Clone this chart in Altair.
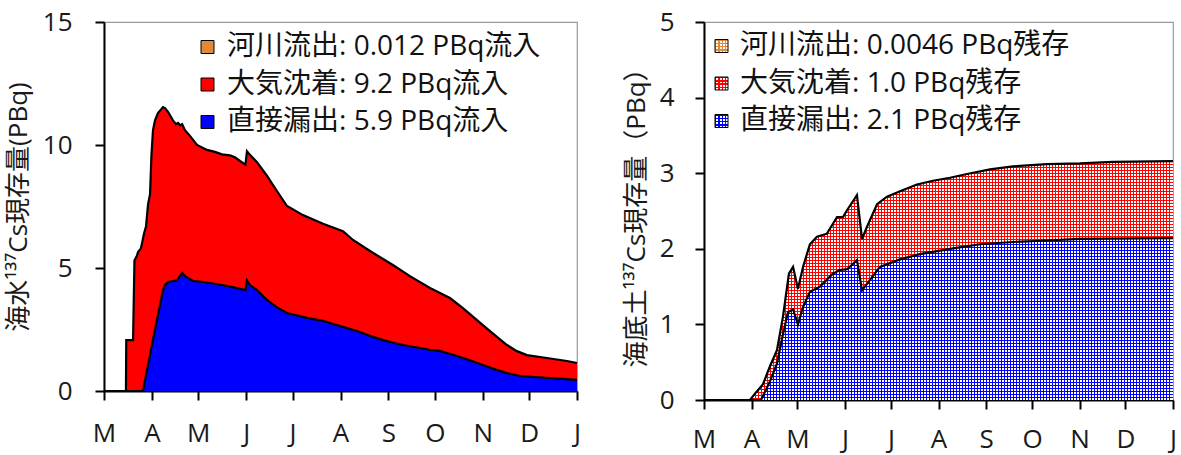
import altair as alt
import pandas as pd

FONT = "Open Sans, Noto Sans CJK JP"
START = pd.Timestamp("2011-03-01")

# ---- Seawater 137Cs inventory (PBq); days counted from 1 March 2011 ----
# upper edge of the stack (direct + atmospheric + river)
sea_total_days = [0.0, 14.2, 14.4, 18.8, 19.7, 21.3, 22.0, 23.9, 24.9, 25.9,
                  27.2, 28.5, 29.8, 30.7, 31.7, 33.0, 34.9, 38.2, 39.5, 41.4,
                  44.6, 46.6, 47.9, 49.2, 50.5, 52.4, 55.6, 60.2, 66.6, 71.8,
                  76.3, 81.5, 84.7, 88.0, 91.5, 92.5, 94.4, 99.0, 105.4, 111.9,
                  118.4, 128.7, 141.7, 154.6, 161.1, 172.1, 186.9, 197.9, 210.9, 223.8,
                  232.2, 245.1, 254.2, 260.7, 267.1, 273.6, 286.5, 299.5, 306.0]
sea_total_pbq = [0, 0, 2.07, 2.07, 5.3, 5.5, 5.65, 5.8, 6.1, 6.4,
                 6.7, 7.6, 8.0, 9.6, 10.6, 11.0, 11.3, 11.54, 11.5, 11.35,
                 11.0, 10.85, 10.9, 10.8, 10.85, 10.6, 10.37, 10.0, 9.8, 9.72,
                 9.62, 9.58, 9.5, 9.35, 9.2, 9.75, 9.6, 9.3, 8.75, 8.13,
                 7.52, 7.15, 6.8, 6.5, 6.14, 5.69, 5.12, 4.67, 4.19, 3.78,
                 3.37, 2.68, 2.2, 1.87, 1.62, 1.46, 1.34, 1.22, 1.14]
# direct release contribution
sea_direct_days = [0.0, 25.2, 31.7, 38.2, 39.5, 41.4, 47.2, 50.5, 52.4, 57.6,
                   62.1, 68.6, 77.0, 84.7, 91.5, 92.5, 94.4, 99.0, 105.4, 111.9,
                   118.4, 131.3, 141.7, 150.7, 163.6, 172.1, 180.5, 193.4, 210.9, 217.3,
                   228.3, 236.7, 245.1, 252.9, 260.7, 269.1, 286.5, 306.0]
sea_direct_pbq = [0, 0, 2.1, 4.1, 4.3, 4.43, 4.5, 4.8, 4.67, 4.47,
                  4.45, 4.39, 4.3, 4.2, 4.1, 4.5, 4.31, 4.1, 3.7, 3.4,
                  3.17, 2.97, 2.85, 2.68, 2.44, 2.24, 2.07, 1.87, 1.67, 1.63,
                  1.42, 1.25, 1.06, 0.88, 0.73, 0.61, 0.53, 0.45]

# ---- Seabed sediment 137Cs inventory (PBq) ----
sed_total_days = [0.0, 30.0, 33.9, 38.5, 43.1, 47.6, 51.5, 55.4, 58.1, 61.3,
                  64.6, 69.1, 73.7, 80.2, 86.8, 90.7, 93.3, 99.8, 103.1, 106.3,
                  112.9, 119.4, 127.9, 138.9, 149.4, 160.5, 171.6, 186.6, 201.6, 223.7,
                  245.3, 266.8, 306.0]
sed_total_pbq = [0, 0, 0.1, 0.21, 0.45, 0.66, 1.1, 1.67, 1.76, 1.47,
                 1.76, 2.06, 2.16, 2.2, 2.42, 2.42, 2.51, 2.71, 2.13, 2.29,
                 2.59, 2.69, 2.76, 2.85, 2.9, 2.94, 2.99, 3.05, 3.09, 3.12,
                 3.13, 3.15, 3.16]
sed_direct_days = [0.0, 37.2, 43.1, 47.6, 51.5, 54.8, 58.1, 61.3, 64.6, 69.1,
                   75.7, 84.1, 88.7, 93.3, 99.8, 103.1, 108.3, 114.8, 127.9, 140.9,
                   160.5, 180.0, 201.6, 223.7, 245.3, 306.0]
sed_direct_pbq = [0, 0, 0.25, 0.48, 0.87, 1.16, 1.2, 1.0, 1.23, 1.43,
                  1.5, 1.67, 1.72, 1.73, 1.85, 1.45, 1.59, 1.76, 1.86, 1.93,
                  2.0, 2.06, 2.09, 2.11, 2.13, 2.14]

# ---- legend entries (river, atmospheric, direct) ----
sea_labels = ["河川流出: 0.012 PBq流入", "大気沈着: 9.2 PBq流入", "直接漏出: 5.9 PBq流入"]
sed_labels = ["河川流出: 0.0046 PBq残存", "大気沈着: 1.0 PBq残存", "直接漏出: 2.1 PBq残存"]
source_colors = ["#e0893b", "#ff0000", "#0000ff"]

month_starts = [(2011, m) for m in range(3, 13)] + [(2012, 1)]


def frame(days, values):
    dates = START + pd.to_timedelta(pd.Series(days, dtype=float), unit="D")
    return pd.DataFrame({"date": dates.dt.strftime("%Y-%m-%dT%H:%M:%S"),
                         "pbq": values})


def stripes(color, n, along_x, back, span=1.0, frac=0.42):
    """Linear gradient of n sharp stripes spread over `span` of the mark's box."""
    stops = []
    for k in range(n):
        a, b, c = k / n, (k + frac) / n, (k + 1) / n
        stops += [{"offset": round(a, 6), "color": color},
                  {"offset": round(b, 6), "color": color},
                  {"offset": round(b, 6), "color": back},
                  {"offset": round(c, 6), "color": back}]
    g = {"gradient": "linear", "stops": stops, "x1": 0, "y1": 0}
    g.update({"x2": span, "y2": 0} if along_x else {"x2": 0, "y2": span})
    return g


x_scale = alt.Scale(domain=[alt.DateTime(year=2011, month=3, date=1),
                            alt.DateTime(year=2012, month=1, date=1)], nice=False)


def x_enc(label_pad):
    axis = alt.Axis(values=[alt.DateTime(year=y, month=m, date=1) for y, m in month_starts],
                    labelExpr="substring(timeFormat(datum.value, '%b'), 0, 1)",
                    title=None, grid=False, tickSize=9, labelPadding=label_pad,
                    labelFlush=False, labelOverlap=False)
    return alt.X("date:T", scale=x_scale, axis=axis)


def y_enc(top, step, title, pad, label_pad):
    return alt.Y("pbq:Q", scale=alt.Scale(domain=[0, top], nice=False),
                 axis=alt.Axis(values=list(range(0, top + 1, step)), title=title,
                               grid=False, tickSize=9, labelPadding=label_pad,
                               titlePadding=pad))


def top_line(df, x, y):
    return alt.Chart(df).mark_line(color="black", strokeWidth=2.2).encode(x=x, y=y)


# ---------------- seawater panel ----------------
sea_total = frame(sea_total_days, sea_total_pbq)
sea_direct = frame(sea_direct_days, sea_direct_pbq)
x_sea = x_enc(20)
y_sea = y_enc(15, 5, "海水¹³⁷Cs現存量(PBq)", 11, 23)

sea_layers = [
    alt.Chart(sea_total).mark_area(fill=source_colors[1]).encode(x=x_sea, y=y_sea),
    alt.Chart(sea_direct).mark_area(fill=source_colors[2]).encode(x=x_sea, y=y_sea),
    top_line(sea_total, x_sea, y_sea),
    top_line(sea_direct, x_sea, y_sea),
]
for i, (lab, col) in enumerate(zip(sea_labels, source_colors)):
    yy = 25 + i * 37.5
    sea_layers.append(alt.Chart().mark_square(size=169, fill=col, stroke="black",
                                              strokeWidth=1, opacity=1)
                      .encode(x=alt.value(103.5), y=alt.value(yy)))
    sea_layers.append(alt.Chart().mark_text(text=lab, align="left", baseline="middle",
                                            fontSize=28, color="#111")
                      .encode(x=alt.value(123), y=alt.value(yy)))

sea_panel = alt.layer(*sea_layers).properties(width=473, height=369)

# ---------------- sediment panel (grid-hatched fills) ----------------
sed_total = frame(sed_total_days, sed_total_pbq)
sed_direct = frame(sed_direct_days, sed_direct_pbq)
x_sed = x_enc(17)
y_sed = y_enc(5, 1, "海底土¹³⁷Cs現存量（PBq）", 10, 21)

CLEAR = "rgba(255,255,255,0)"
SED_W, SED_H = 469, 378
CELL = 3  # grid spacing in pixels


def hatched_area(df, color, peak):
    # stripes are laid out over whole multiples of CELL pixels so the grid stays even
    n_x = SED_W // CELL
    h = peak * SED_H / 5
    n_y = int(h // CELL) + 1
    return [
        alt.Chart(df).mark_area(fill=stripes(color, n_x, True, "white",
                                             span=n_x * CELL / SED_W)).encode(x=x_sed, y=y_sed),
        alt.Chart(df).mark_area(fill=stripes(color, n_y, False, CLEAR,
                                             span=n_y * CELL / h)).encode(x=x_sed, y=y_sed),
    ]


sed_layers = (hatched_area(sed_total, source_colors[1], max(sed_total_pbq))
              + hatched_area(sed_direct, source_colors[2], max(sed_direct_pbq))
              + [top_line(sed_total, x_sed, y_sed), top_line(sed_direct, x_sed, y_sed)])
for i, (lab, col) in enumerate(zip(sed_labels, source_colors)):
    yy = 24 + i * 37.5
    sed_layers.append(alt.Chart().mark_square(size=169, fill=stripes(col, 4, True, "white"),
                                              opacity=1)
                      .encode(x=alt.value(17.5), y=alt.value(yy)))
    sed_layers.append(alt.Chart().mark_square(size=169, fill=stripes(col, 4, False, CLEAR),
                                              stroke="black", strokeWidth=1, opacity=1)
                      .encode(x=alt.value(17.5), y=alt.value(yy)))
    sed_layers.append(alt.Chart().mark_text(text=lab, align="left", baseline="middle",
                                            fontSize=28, color="#111")
                      .encode(x=alt.value(36), y=alt.value(yy)))

sed_panel = alt.layer(*sed_layers).properties(width=SED_W, height=SED_H)

chart = (
    alt.hconcat(sea_panel, sed_panel, spacing=40)
    .properties(padding={"left": 4, "top": 8, "right": 2, "bottom": 3})
    .configure(font=FONT)
    .configure_view(stroke="#9a9a9a", strokeWidth=1.2)
    .configure_axis(domainColor="black", domainWidth=2, tickColor="black", tickWidth=2,
                    labelColor="#1a1a1a", labelFontSize=26, labelFont=FONT,
                    titleFont=FONT, titleFontSize=26, titleFontWeight="normal",
                    titleColor="#1a1a1a")
)

chart.save("out.html", embed_options={"renderer": "svg", "actions": False})
